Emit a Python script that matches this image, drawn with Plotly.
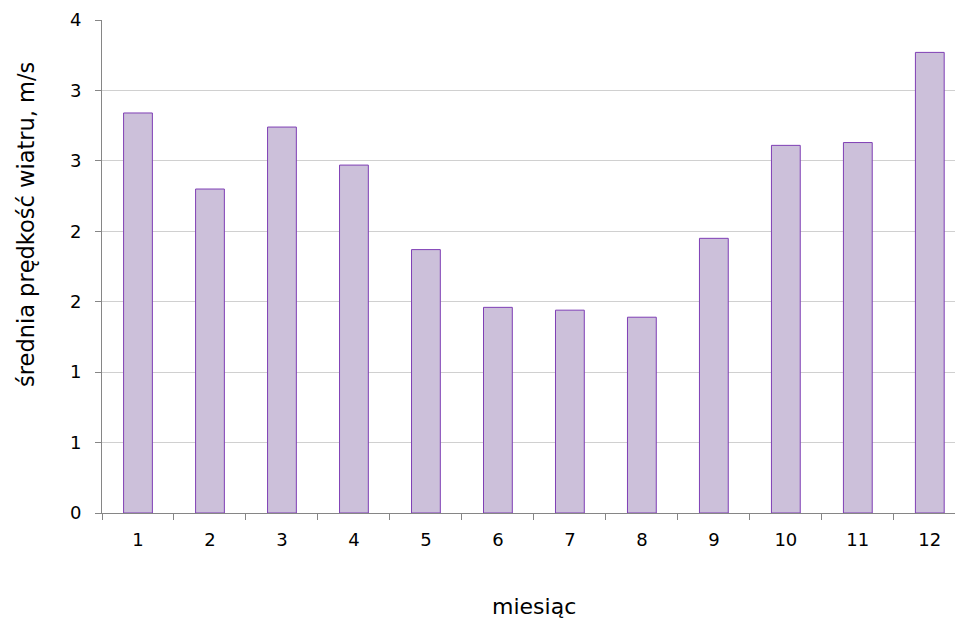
import plotly.graph_objects as go

# Average monthly wind speed
months = ["1", "2", "3", "4", "5", "6", "7", "8", "9", "10", "11", "12"]
wind_speed = [2.84, 2.30, 2.74, 2.47, 1.87, 1.46, 1.44, 1.39, 1.95, 2.61, 2.63, 3.27]

y_tick_values = [0, 0.5, 1, 1.5, 2, 2.5, 3, 3.5]
y_tick_labels = ["0", "1", "1", "2", "2", "3", "3", "4"]

FONT = "DejaVu Sans"
W, H = 955, 625
L, T, B = 101.7, 20.3, 111.5

fig = go.Figure()
fig.add_trace(go.Bar(
    x=months,
    y=wind_speed,
    marker=dict(color="#CCC0DA", line=dict(color="#7F3FB5", width=1)),
    showlegend=False,
))

fig.update_layout(
    width=W, height=H,
    margin=dict(l=L, r=0, t=T, b=B),
    paper_bgcolor="white",
    plot_bgcolor="white",
    bargap=0.6,
    font=dict(family=FONT, size=17, color="#000000"),
    xaxis=dict(
        type="category",
        range=[-0.5, 11.35],
        tickson="boundaries",
        ticks="outside",
        ticklen=6,
        tickcolor="#868686",
        showline=True,
        linecolor="#868686",
        linewidth=1,
        showgrid=False,
        ticklabelstandoff=10,
        tickfont=dict(family=FONT, size=18),
    ),
    yaxis=dict(
        range=[0, 3.5],
        tickvals=y_tick_values,
        ticktext=y_tick_labels,
        ticks="outside",
        ticklen=6,
        tickcolor="#868686",
        showline=True,
        linecolor="#868686",
        linewidth=1,
        showgrid=True,
        gridcolor="#D0D0D0",
        gridwidth=1,
        zeroline=False,
        ticklabelstandoff=10,
        tickfont=dict(family=FONT, size=18),
    ),
    annotations=[
        dict(
            text="miesiąc",
            xref="x", yref="paper",
            x=5.5, y=-(607 - (H - B)) / (H - B - T),
            xanchor="center", yanchor="middle",
            showarrow=False,
            font=dict(family=FONT, size=22),
        ),
        dict(
            text="średnia prędkość wiatru, m/s",
            xref="paper", yref="paper",
            x=-(L - 25) / (W - L), y=(H - B - 225) / (H - B - T),
            xanchor="center", yanchor="middle",
            textangle=-90,
            showarrow=False,
            font=dict(family=FONT, size=22.5),
        ),
    ],
)

fig.write_html("out.html")
